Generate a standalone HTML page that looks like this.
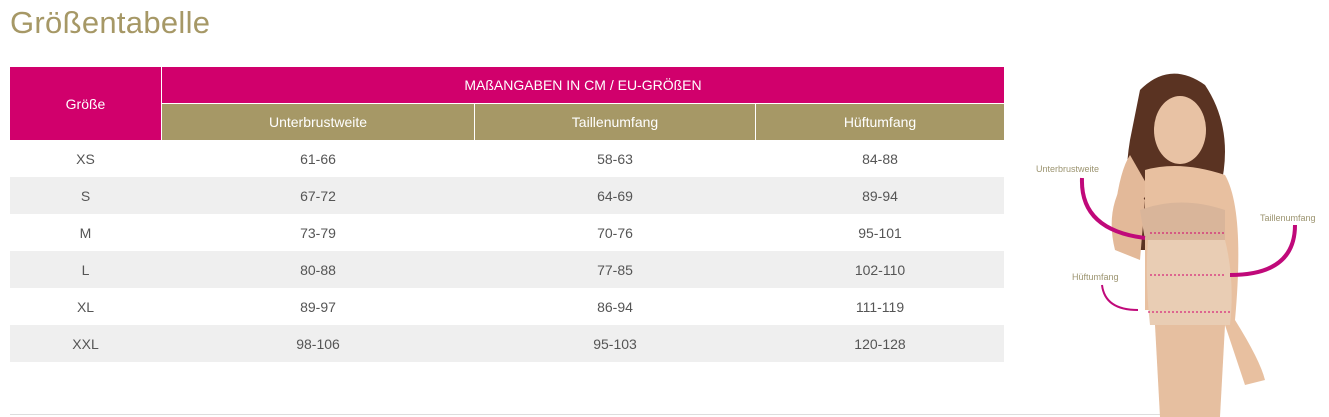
<!DOCTYPE html>
<html><head><meta charset="utf-8"><style>
body{margin:0;width:1329px;height:417px;background:#fff;font-family:"Liberation Sans",sans-serif;position:relative;overflow:hidden}
h1{position:absolute;left:10px;top:5px;margin:0;font-weight:normal;font-size:31px;color:#a69866;letter-spacing:0.3px}
.c{position:absolute;display:flex;align-items:center;justify-content:center;font-size:14px;color:#555}
.p{background:#d1006c;color:#fff}
.g{background:#a69866;color:#fff}
.s{position:absolute;left:10px;width:994px;height:37px;background:#efefef}
</style></head><body>
<h1>Größentabelle</h1>
<div class="c p" style="left:10px;top:67px;width:151px;height:73px">Größe</div>
<div class="c p" style="left:162px;top:67px;width:842px;height:36px">MAßANGABEN IN CM / EU-GRÖßEN</div>
<div class="c g" style="left:162px;top:104px;width:312px;height:36px">Unterbrustweite</div>
<div class="c g" style="left:475px;top:104px;width:280px;height:36px">Taillenumfang</div>
<div class="c g" style="left:756px;top:104px;width:248px;height:36px">Hüftumfang</div>
<div class="s" style="top:177px"></div><div class="s" style="top:251px"></div><div class="s" style="top:325px"></div>
<div id="rows"></div>
<script>
var d=[["XS","61-66","58-63","84-88"],["S","67-72","64-69","89-94"],["M","73-79","70-76","95-101"],["L","80-88","77-85","102-110"],["XL","89-97","86-94","111-119"],["XXL","98-106","95-103","120-128"]];
var cols=[[10,151],[162,312],[475,280],[756,248]],h="";
d.forEach(function(r,i){r.forEach(function(t,j){h+='<div class="c" style="left:'+cols[j][0]+'px;top:'+(140+i*37)+'px;width:'+cols[j][1]+'px;height:37px">'+t+'</div>'})});
document.getElementById('rows').innerHTML=h;
</script>
<div style="position:absolute;left:10px;top:414px;width:1200px;height:1px;background:#ddd"></div>
<svg style="position:absolute;left:1020px;top:60px" width="309" height="357">
<path d="M120 30 Q150 0 185 25 Q215 70 200 130 Q205 170 185 190 L120 190 Q100 140 110 80 Z" fill="#5a3322"/>
<ellipse cx="160" cy="70" rx="26" ry="34" fill="#e8c2a4"/>
<path d="M110 95 Q100 110 95 150 Q110 160 130 130 Z" fill="#e3b999"/>
<path d="M105 120 Q85 150 95 190 L120 200 L125 140 Z" fill="#e3b999"/>
<path d="M125 110 Q160 100 205 115 Q225 150 215 260 Q240 300 245 320 L225 325 L200 250 L125 250 Z" fill="#e8c0a0"/>
<path d="M120 150 Q160 135 205 150 L205 180 L125 180 Z" fill="#d9b59a"/>
<path d="M128 180 L205 180 Q215 220 210 265 L130 265 Q125 220 128 180 Z" fill="#e9cdb4"/>
<path d="M135 265 L205 265 L200 357 L140 357 Z" fill="#e6bfa0"/>
<line x1="130" y1="173" x2="205" y2="173" stroke="#d1006c" stroke-dasharray="2 2"/>
<line x1="130" y1="215" x2="205" y2="215" stroke="#d1006c" stroke-dasharray="2 2"/>
<line x1="128" y1="252" x2="212" y2="252" stroke="#d1006c" stroke-dasharray="2 2"/>
<path d="M62 118 Q60 170 125 178" fill="none" stroke="#c0097a" stroke-width="4"/>
<path d="M275 165 Q275 215 210 215" fill="none" stroke="#c0097a" stroke-width="4"/>
<path d="M82 225 Q85 250 118 250" fill="none" stroke="#c0097a" stroke-width="2"/>
<text x="16" y="112" font-size="9" fill="#9c9470" font-family="Liberation Sans">Unterbrustweite</text>
<text x="240" y="161" font-size="9" fill="#9c9470" font-family="Liberation Sans">Taillenumfang</text>
<text x="52" y="220" font-size="9" fill="#9c9470" font-family="Liberation Sans">Hüftumfang</text>
</svg>
</body></html>
